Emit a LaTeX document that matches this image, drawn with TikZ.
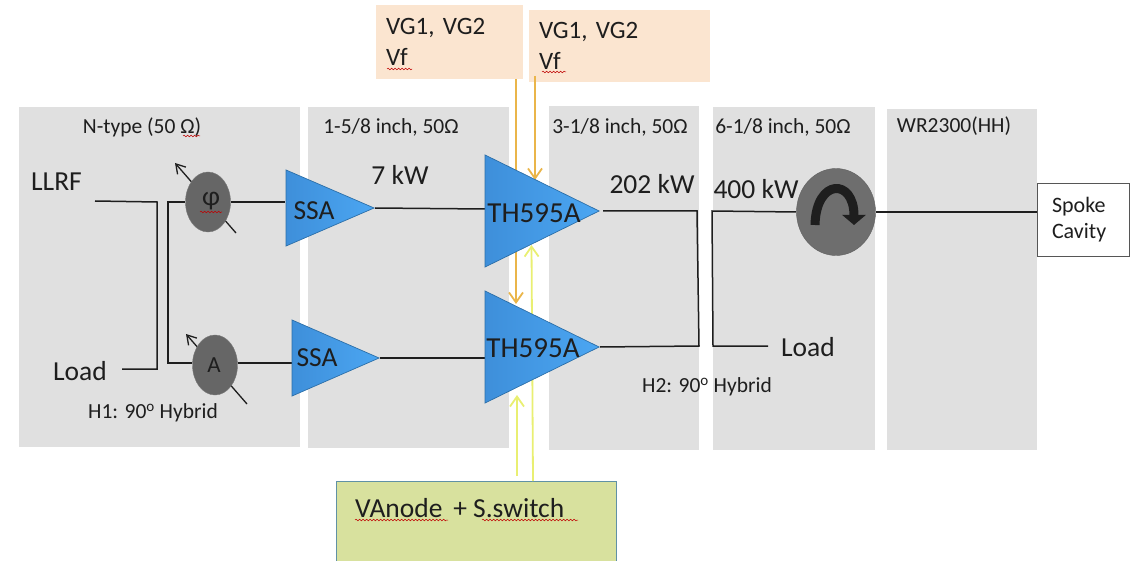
\documentclass[tikz,border=0pt]{standalone}
\usepackage{fontspec}
\setmainfont{Carlito}
\usepackage{tikz}
\usetikzlibrary{arrows.meta,backgrounds,decorations.pathmorphing,shapes.geometric}
\definecolor{panelgray}{HTML}{E0E0E0}
\definecolor{peach}{HTML}{FBE5D0}
\definecolor{palegreen}{HTML}{D8E19E}
\definecolor{bulkgray}{HTML}{666666}
\definecolor{ampdark}{HTML}{3E8FDA}
\definecolor{amplight}{HTML}{4BA6F2}
\definecolor{ampline}{HTML}{2C6FA8}
\definecolor{feedorange}{HTML}{EAB54A}
\definecolor{feedyellow}{HTML}{E9EF72}
\definecolor{inkblack}{HTML}{1E1E1E}

\begin{document}
\begin{tikzpicture}[
    x=1pt,y=-1pt,
    panel/.style={fill=panelgray, inner sep=0pt, minimum width=#1},
    panel/.default=150pt,
    supply/.style={fill=peach, align=left, inner xsep=10pt, inner ysep=0pt, font=\fontsize{25}{31}\selectfont, text=inkblack},
    amp/.style={draw=ampline, line width=0.7pt, left color=ampdark, right color=amplight,
      isosceles triangle, isosceles triangle stretches, inner sep=0pt, anchor=apex},
    adjust/.style={draw=inkblack!60, fill=bulkgray, ellipse, inner sep=0pt, minimum width=45pt, minimum height=60pt},
    small/.style={inner sep=0pt, text=inkblack, font=\fontsize{21.5}{25}\selectfont},
    large/.style={inner sep=0pt, text=inkblack, font=\fontsize{27.5}{32}\selectfont},
    tube/.style={inner sep=0pt, text=inkblack, font=\fontsize{29}{32}\selectfont},
    wire/.style={inkblack, line width=1.5pt},
    knob/.style={-{Straight Barb[length=9pt,width=11pt]}, inkblack, line width=1.3pt},
    orangefeed/.style={-{Straight Barb[length=10pt,width=14pt]}, feedorange, line width=1.8pt},
    yellowfeed/.style={-{Straight Barb[length=10pt,width=14pt]}, feedyellow, line width=1.8pt},
    squig/.style={red!75!black, line width=0.5pt, decorate, decoration={snake,segment length=3.5pt,amplitude=0.8pt}}
  ]
    \useasboundingbox (0,0) rectangle (1135,561);

    % amplifiers
    \node[amp, minimum width=76pt, minimum height=88pt] (ssaone) at (375,208) {};
    \node[amp, minimum width=76pt, minimum height=87pt] (ssatwo) at (380,358) {};
    \node[amp, minimum width=112pt, minimum height=114pt] (thone) at (600,211) {};
    \node[amp, minimum width=112pt, minimum height=114pt] (thtwo) at (600,347) {};
    \node[adjust] (phase) at (208,202) {};
    \node[adjust] (atten) at (215,365) {};
    \node[draw=inkblack!70, fill=bulkgray!95!white, ellipse, inner sep=0pt, minimum width=79pt, minimum height=87pt] (circ) at (836,212) {};

    \node[large] (ssaonetext) at (314,211) {SSA};
    \node[large] (ssatwotext) at (317,358) {SSA};
    \node[tube] (thonetext) at (534,213) {TH595A};
    \node[tube] (thtwotext) at (533,348) {TH595A};
    \node[large] (phasetext) at (211,201) {φ};
    \node[small, font=\fontsize{23}{26}\selectfont] (attentext) at (214,365) {A};

    \node[draw=inkblack!75, line width=0.8pt, fill=white, align=left, inner xsep=15pt, inner ysep=0pt, text width=62pt, minimum height=73pt,
      font=\fontsize{22}{26}\selectfont, text=inkblack] (cavity) at (1083,219.5) {Spoke\\Cavity};

    \node[large] (llrf) at (56.5,182) {LLRF};
    \node[large] (loadone) at (80,371) {Load};
    \node[large] (loadtwo) at (808,347) {Load};
    \node[large] (kwseven) at (400,175) {7 kW};
    \node[large] (kwtwo) at (652,184) {202 kW};
    \node[large] (kwfour) at (756,189) {400 kW};
    \node[small] (hybone) at (153,413) {H1: 90\textsuperscript{o} Hybrid};
    \node[small] (hybtwo) at (707,387) {H2: 90\textsuperscript{o} Hybrid};
    \node[small] (ntype) at (142,127) {N-type (50 Ω)};
    \node[small] (fiveeighth) at (391,127) {1-5/8 inch, 50Ω};
    \node[small] (threeeighth) at (620,127) {3-1/8 inch, 50Ω};
    \node[small] (sixeighth) at (783,127) {6-1/8 inch, 50Ω};
    \node[small] (wrguide) at (954,126) {WR2300(HH)};

    \node[large, anchor=west] (anodetext) at (355,508) {VAnode\, + S.switch};

    \begin{pgfonlayer}{background}
      \node[panel=281pt, minimum height=340pt] (pone) at (159.5,277) {};
      \node[panel=201pt, minimum height=341pt] (ptwo) at (408.5,277.5) {};
      \node[panel=150pt, minimum height=344pt] (pthree) at (624,278) {};
      \node[panel=162pt, minimum height=343pt] (pfour) at (794,278.5) {};
      \node[panel=150pt, minimum height=341pt] (pfive) at (962,279.5) {};

      \node[supply, text width=127pt, minimum height=74pt] (vgone) at (449.5,42) {VG1, VG2\\Vf};
      \node[supply, text width=161pt, minimum height=72pt] (vgtwo) at (619.5,46) {VG1, VG2\\Vf};
      \node[draw=ampline!70!palegreen, line width=0.8pt, fill=palegreen, inner sep=0pt, minimum width=280pt, minimum height=86pt] (anode) at (476,524) {};

      \draw[orangefeed] (516,79) -- (516,304);
      \draw[orangefeed] (535,76) -- (535,180);
      \draw[yellowfeed] (517,476) -- (517,395);
      \draw[yellowfeed] (533,481) -- (531.5,245);

      \draw[knob] ([xshift=28pt,yshift=-31pt]phase.center) -- ([xshift=-33pt,yshift=39pt]phase.center);
      \draw[knob] ([xshift=32pt,yshift=-39pt]atten.center) -- ([xshift=-29pt,yshift=31pt]atten.center);

      \draw[wire] (95,201) -- (157,202) -- (157,369) -- (122,369);
      \draw[wire] (phase.west) -- (168,202) -- (168,363) -- (atten.west |- 0,363);
      \draw[wire] (phase.east) -- (285,202);
      \draw[wire] (atten.east |- 0,363) -- (292,363);
      \draw[wire] (ssaone.apex) -- (485,209);
      \draw[wire] (ssatwo.apex) -- (thtwo.west |- 0,358);
      \draw[wire] (603,211) -- (697,211) -- (699,346) -- (thtwo.apex);
      \draw[wire] (circ.west) -- (712,211) -- (713,346) -- (768,346);
      \draw[wire] (circ.east) -- (cavity.west |- circ.east);
    \end{pgfonlayer}

    % circulator sense
    \draw[line width=9pt, inkblack, -{Triangle[length=10pt,width=23pt]}]
      ([xshift=-21pt,yshift=-13pt]circ.center) .. controls ([xshift=-20pt,yshift=34pt]circ.center) and ([xshift=18pt,yshift=34pt]circ.center) .. ([xshift=18pt,yshift=-13pt]circ.center);

    % spell-check marks
    \draw[squig] (387,69) -- (412,69);
    \draw[squig] (542,72) -- (566,72);
    \draw[squig] (183,136) -- (200,136);
    \draw[squig] (200,212) -- (222,212);
    \draw[squig] (355,520) -- (448,520);
    \draw[squig] (482,520) -- (578,520);
  \end{tikzpicture}
\end{document}
